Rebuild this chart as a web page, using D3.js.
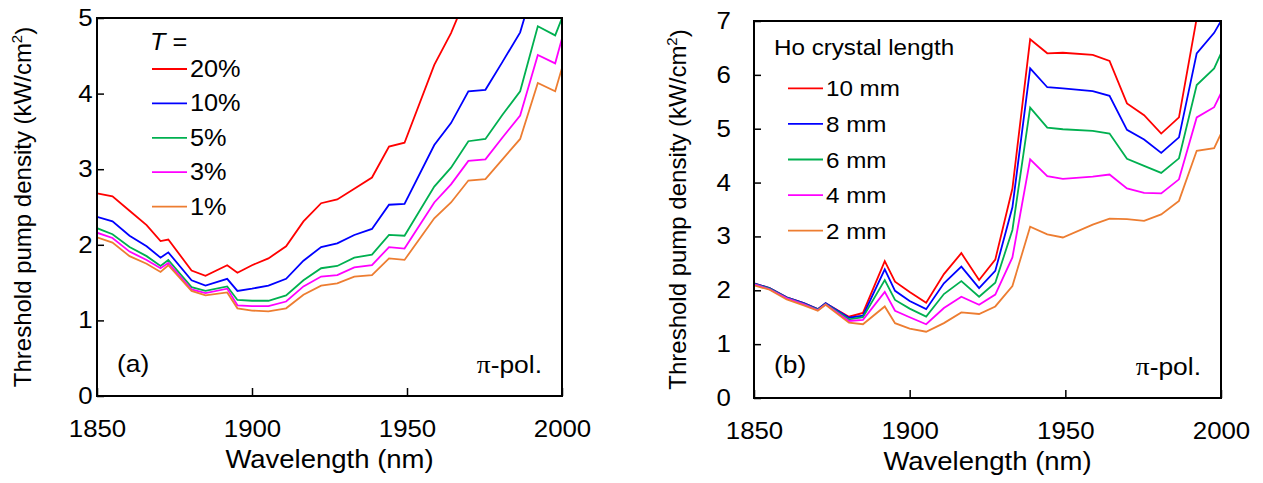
<!DOCTYPE html>
<html>
<head>
<meta charset="utf-8">
<script src="https://cdn.jsdelivr.net/npm/d3@7"></script>
<style>
  html, body { margin: 0; padding: 0; background: #fff; }
  svg { display: block; }
  text { font-family: Arial, "Liberation Sans", sans-serif; fill: #000; }
</style>
</head>
<body>
<svg id="chart" width="1263" height="483"></svg>
<script>
// ---------------- data ----------------
const wavelengths = [1850, 1855, 1860.5, 1866, 1870.5, 1873, 1880.5, 1885, 1892, 1895.3, 1900, 1905.3, 1911, 1916.6, 1922.3, 1927.5, 1933, 1938.7, 1944.2, 1949.2, 1958.8, 1964.2, 1969.8, 1975.3, 1980.8, 1986.5, 1992.2, 1997.8, 2000];

// Panel (a): output coupler transmission T
const seriesNamesA = ["20%", "10%", "5%", "3%", "1%"];
const aT20 = [2.68, 2.64, 2.45, 2.26, 2.05, 2.07, 1.66, 1.59, 1.73, 1.63, 1.73, 1.82, 1.98, 2.31, 2.55, 2.60, 2.74, 2.89, 3.30, 3.35, 4.38, 4.80, 5.35, null, null, null, null, null, null];
const aT10 = [2.37, 2.31, 2.12, 1.98, 1.83, 1.90, 1.53, 1.46, 1.55, 1.39, 1.42, 1.46, 1.55, 1.79, 1.97, 2.02, 2.13, 2.21, 2.53, 2.54, 3.32, 3.61, 4.03, 4.05, 4.42, 4.81, 5.60, null, null];
const aT5  = [2.22, 2.14, 1.97, 1.85, 1.72, 1.80, 1.44, 1.39, 1.45, 1.27, 1.26, 1.26, 1.33, 1.53, 1.69, 1.72, 1.83, 1.87, 2.13, 2.12, 2.77, 3.02, 3.37, 3.40, 3.72, 4.03, 4.89, 4.77, 5.00];
const aT3  = [2.16, 2.09, 1.91, 1.80, 1.69, 1.76, 1.41, 1.36, 1.42, 1.20, 1.19, 1.19, 1.25, 1.45, 1.58, 1.60, 1.70, 1.73, 1.97, 1.95, 2.56, 2.80, 3.11, 3.13, 3.42, 3.71, 4.51, 4.40, 4.73];
const aT1  = [2.10, 2.03, 1.85, 1.75, 1.64, 1.73, 1.39, 1.33, 1.37, 1.16, 1.13, 1.12, 1.16, 1.34, 1.46, 1.49, 1.58, 1.60, 1.82, 1.80, 2.35, 2.56, 2.85, 2.87, 3.13, 3.40, 4.14, 4.03, 4.34];

// Panel (b): Ho crystal length
const seriesNamesB = ["10 mm", "8 mm", "6 mm", "4 mm", "2 mm"];
const bL10 = [2.13, 2.04, 1.87, 1.76, 1.65, 1.76, 1.51, 1.58, 2.54, 2.16, 1.97, 1.77, 2.30, 2.69, 2.19, 2.57, 3.89, 6.66, 6.40, 6.41, 6.37, 6.26, 5.47, 5.25, 4.91, 5.21, 7.05, null, null];
const bL8  = [2.13, 2.04, 1.87, 1.76, 1.65, 1.76, 1.49, 1.53, 2.39, 1.99, 1.80, 1.65, 2.13, 2.44, 2.04, 2.36, 3.54, 6.12, 5.77, 5.75, 5.70, 5.61, 4.98, 4.80, 4.55, 4.84, 6.40, 6.78, 7.00];
const bL6  = [2.12, 2.03, 1.86, 1.75, 1.64, 1.75, 1.46, 1.50, 2.19, 1.82, 1.66, 1.51, 1.93, 2.17, 1.88, 2.14, 3.12, 5.39, 5.02, 4.99, 4.96, 4.91, 4.44, 4.31, 4.18, 4.45, 5.81, 6.12, 6.40];
const bL4  = [2.11, 2.02, 1.85, 1.74, 1.63, 1.74, 1.43, 1.45, 1.97, 1.62, 1.50, 1.37, 1.67, 1.88, 1.73, 1.92, 2.61, 4.43, 4.12, 4.07, 4.11, 4.15, 3.89, 3.81, 3.80, 4.06, 5.21, 5.40, 5.66];
const bL2  = [2.09, 2.01, 1.83, 1.72, 1.62, 1.73, 1.40, 1.37, 1.70, 1.39, 1.29, 1.23, 1.39, 1.59, 1.56, 1.70, 2.08, 3.18, 3.04, 2.98, 3.22, 3.33, 3.32, 3.29, 3.41, 3.66, 4.59, 4.64, 4.91];

const xTicks = [1850, 1900, 1950, 2000];
const yTicksA = [0, 1, 2, 3, 4, 5];
const yTicksB = [0, 1, 2, 3, 4, 5, 6, 7];
const colors = ["#FF0000", "#0000FF", "#00B050", "#FF00FF", "#ED7D31"];

// ---------------- drawing ----------------
const svg = d3.select("#chart");
const SX = 1.1; // horizontal text stretch seen in the reference

function stretchText(sel) {
  sel.each(function () {
    const t = d3.select(this);
    t.attr("transform", `scale(${SX},1)`);
  });
}

function panel(cfg) {
  const g = svg.append("g");
  const x = d3.scaleLinear().domain([1850, 2000]).range([cfg.left, cfg.right]);
  const y = d3.scaleLinear().domain([0, cfg.ymax]).range([cfg.bottom, cfg.top]);

  const clipId = "clip" + cfg.id;
  svg.append("defs").append("clipPath").attr("id", clipId)
    .append("rect").attr("x", cfg.left).attr("y", cfg.top)
    .attr("width", cfg.right - cfg.left).attr("height", cfg.bottom - cfg.top);

  // y axis (ticks inward)
  const yAx = g.append("g").attr("transform", `translate(${cfg.left},0)`)
    .call(d3.axisLeft(y).tickValues(cfg.yTicks).tickFormat(d3.format("d"))
      .tickSizeInner(-7).tickSizeOuter(0).tickPadding(cfg.yPad));
  yAx.select(".domain").remove();
  yAx.selectAll("line").attr("stroke", "#000").attr("stroke-width", 1.5);
  yAx.selectAll("text").attr("font-size", "23.5px").attr("font-family", "Arial, 'Liberation Sans', sans-serif")
    .attr("fill", "#000").call(stretchText);

  // x axis (ticks inward)
  const xAx = g.append("g").attr("transform", `translate(0,${cfg.bottom})`)
    .call(d3.axisBottom(x).tickValues(xTicks).tickFormat(d3.format("d"))
      .tickSizeInner(-8).tickSizeOuter(0).tickPadding(24.5));
  xAx.select(".domain").remove();
  xAx.selectAll("line").attr("stroke", "#000").attr("stroke-width", 1.5);
  xAx.selectAll("text").attr("font-size", "23.5px").attr("font-family", "Arial, 'Liberation Sans', sans-serif")
    .attr("fill", "#000").call(stretchText);

  // series
  const line = d3.line()
    .defined(d => d[1] !== null)
    .x(d => x(d[0])).y(d => y(d[1]));
  const lg = g.append("g").attr("clip-path", `url(#${clipId})`);
  cfg.series.forEach((vals, i) => {
    const pts = wavelengths.map((w, j) => [w, vals[j]]);
    lg.append("path").datum(pts).attr("d", line)
      .attr("fill", "none").attr("stroke", colors[i]).attr("stroke-width", 1.8)
      .attr("stroke-linejoin", "miter");
  });

  // frame
  g.append("rect").attr("x", cfg.left).attr("y", cfg.top)
    .attr("width", cfg.right - cfg.left).attr("height", cfg.bottom - cfg.top)
    .attr("fill", "none").attr("stroke", "#000").attr("stroke-width", 2);

  // y title
  const yt = g.append("text")
    .attr("transform", `translate(${cfg.yTitleX},${(cfg.top + cfg.bottom) / 2}) rotate(-90)`)
    .attr("text-anchor", "middle").attr("dy", "0.35em").attr("font-size", "24px");
  yt.append("tspan").text("Threshold pump density (kW/cm");
  yt.append("tspan").text("2").attr("font-size", "15px").attr("dy", "-0.6em");
  yt.append("tspan").text(")").attr("dy", "0.38em");

  // x title
  g.append("text").attr("transform", `translate(${(cfg.left + cfg.right) / 2},${cfg.bottom + 72}) scale(${SX},1)`)
    .attr("text-anchor", "middle").attr("font-size", "25px").text("Wavelength (nm)");

  // legend
  if (cfg.legendTitle) {
    const lt = g.append("text").attr("transform", `translate(${cfg.legendTitleX},${cfg.legendTitleY}) scale(${SX},1)`)
      .attr("font-size", cfg.legendFont + "px");
    if (cfg.id === "A") {
      lt.append("tspan").attr("font-style", "italic").text("T");
      lt.append("tspan").text(" =");
    } else {
      lt.text(cfg.legendTitle);
    }
  }
  cfg.names.forEach((n, i) => {
    const ly = cfg.legendY0 + i * cfg.legendStep;
    g.append("line").attr("x1", cfg.legendX1).attr("x2", cfg.legendX2)
      .attr("y1", ly).attr("y2", ly).attr("stroke", colors[i]).attr("stroke-width", 1.8);
    g.append("text").attr("transform", `translate(${cfg.legendX2 + 3},${ly + 8}) scale(${SX},1)`)
      .attr("font-size", cfg.legendFont + "px").text(n);
  });

  // panel label
  g.append("text").attr("transform", `translate(${cfg.left + 20},${cfg.labelY}) scale(${SX},1)`)
    .attr("font-size", "24px").text(cfg.label);
  const pp = g.append("text").attr("transform", `translate(${cfg.right - 20},${cfg.polY}) scale(${SX},1)`)
    .attr("text-anchor", "end").attr("font-size", "24px");
  pp.append("tspan").attr("font-family", "'Liberation Serif', 'Times New Roman', serif").attr("font-size", "25px").text("π");
  pp.append("tspan").text("-pol.");
}

panel({
  id: "A", left: 97, right: 562, top: 18, bottom: 396, ymax: 5, yTicks: yTicksA, yPad: 4,
  series: [aT20, aT10, aT5, aT3, aT1], names: seriesNamesA,
  yTitleX: 23, legendTitle: "T =", legendTitleX: 150, legendTitleY: 50, legendFont: 23,
  legendX1: 152, legendX2: 187, legendY0: 69, legendStep: 34.4,
  label: "(a)", labelY: 372, polY: 373
});

panel({
  id: "B", left: 754, right: 1221, top: 21, bottom: 398, ymax: 7, yTicks: yTicksB, yPad: 21,
  series: [bL10, bL8, bL6, bL4, bL2], names: seriesNamesB,
  yTitleX: 678, legendTitle: "Ho crystal length", legendTitleX: 774, legendTitleY: 55, legendFont: 22,
  legendX1: 788, legendX2: 823, legendY0: 88.3, legendStep: 35.6,
  label: "(b)", labelY: 373, polY: 375
});
</script>
</body>
</html>
